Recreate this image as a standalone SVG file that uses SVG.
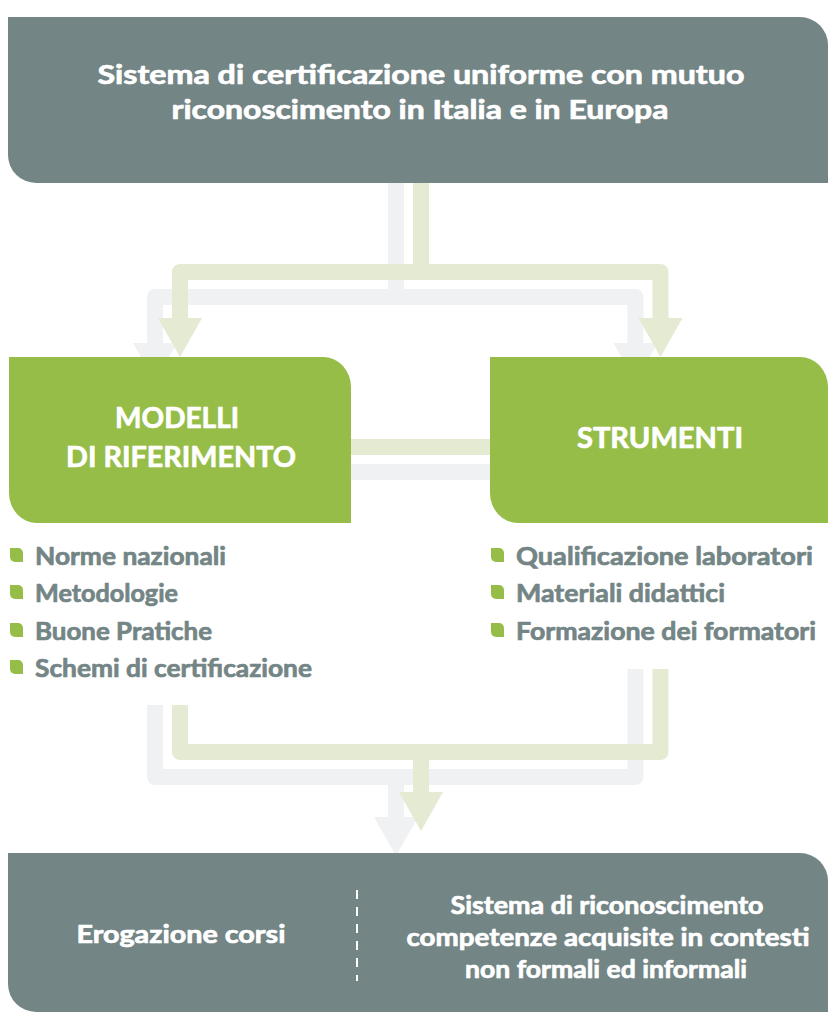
<svg xmlns="http://www.w3.org/2000/svg" width="828" height="1012" viewBox="0 0 828 1012">
  <style>
    .slate { fill: #738585; }
    .green { fill: #95bd47; }
    .cg { stroke: #e4ebd2; fill: none; stroke-width: 16; stroke-linejoin: round; }
    .cgr { stroke: #f0f1f3; fill: none; stroke-width: 16; stroke-linejoin: round; }
    .ag { fill: #e4ebd2; }
    .agr { fill: #f0f1f3; }
    .t { font-family: Lato, "Open Sans", "Liberation Sans", sans-serif; font-weight: 700; stroke-width: 0.7; stroke-linejoin: round; }
    .tw { fill: #ffffff; stroke: #ffffff; text-anchor: middle; }
    .tl { fill: #738585; stroke: #738585; font-size: 25px; }
    .bul { fill: #95bd47; }
  </style>
  <defs>
    <path id="bullet" d="M0,0 H8 A5,5 0 0 1 13,5 V14 H5 A5,5 0 0 1 0,9 Z"/>
  </defs>

  <g id="connectors">
    <!-- grey shadow layer -->
    <path class="cgr" d="M396,160 V297"/>
    <path class="cgr" d="M155,345 V297 H635.5 V345"/>
    <polygon class="agr" points="133,343 177,343 155,382"/>
    <polygon class="agr" points="613.5,343 657.5,343 635.5,382"/>
    <rect class="agr" x="340" y="464" width="160" height="16"/>
    <path class="cgr" d="M155,705 V777 H635.5 V669"/>
    <path class="cgr" d="M396,777 V818"/>
    <polygon class="agr" points="374,817 418,817 396,856"/>
    <!-- green layer -->
    <path class="cg" d="M421,160 V272"/>
    <path class="cg" d="M180,319 V272 H660.5 V319"/>
    <polygon class="ag" points="158,318 202,318 180,357"/>
    <polygon class="ag" points="638.5,318 682.5,318 660.5,357"/>
    <rect class="ag" x="340" y="439" width="160" height="16"/>
    <path class="cg" d="M180,705 V752 H660.5 V669"/>
    <path class="cg" d="M421,752 V793"/>
    <polygon class="ag" points="399,792 443,792 421,831"/>
  </g>

  <g id="top">
    <path class="slate" d="M8,17 H800 A28,28 0 0 1 828,45 V183 H36 A28,28 0 0 1 8,155 Z"/>
    <text class="t tw" font-size="26" x="421" y="84" textLength="647" lengthAdjust="spacingAndGlyphs">Sistema di certificazione uniforme  con mutuo</text>
    <text class="t tw" font-size="26" x="420" y="119" textLength="497" lengthAdjust="spacingAndGlyphs">riconoscimento in Italia e in Europa</text>
  </g>

  <g id="modelli">
    <path class="green" d="M9,357 H323 A28,30 0 0 1 351,387 V523 H37 A28,30 0 0 1 9,493 Z"/>
    <text class="t tw" font-size="28" x="177" y="428" textLength="124" lengthAdjust="spacingAndGlyphs">MODELLI</text>
    <text class="t tw" font-size="28" x="181" y="467" textLength="230" lengthAdjust="spacingAndGlyphs">DI RIFERIMENTO</text>
  </g>

  <g id="strumenti">
    <path class="green" d="M490,357 H800 A28,30 0 0 1 828,387 V523 H518 A28,30 0 0 1 490,493 Z"/>
    <text class="t tw" font-size="28" x="660" y="448" textLength="166" lengthAdjust="spacingAndGlyphs">STRUMENTI</text>
  </g>

  <g id="list-modelli">
    <use href="#bullet" class="bul" x="10" y="548"/>
    <text class="t tl" x="35" y="565" textLength="191" lengthAdjust="spacingAndGlyphs">Norme nazionali</text>
    <use href="#bullet" class="bul" x="10" y="585"/>
    <text class="t tl" x="35" y="602" textLength="143" lengthAdjust="spacingAndGlyphs">Metodologie</text>
    <use href="#bullet" class="bul" x="10" y="623"/>
    <text class="t tl" x="35" y="640" textLength="177" lengthAdjust="spacingAndGlyphs">Buone Pratiche</text>
    <use href="#bullet" class="bul" x="10" y="660"/>
    <text class="t tl" x="35" y="677" textLength="277" lengthAdjust="spacingAndGlyphs">Schemi di certificazione</text>
  </g>

  <g id="list-strumenti">
    <use href="#bullet" class="bul" x="491" y="548"/>
    <text class="t tl" x="516" y="565" textLength="297" lengthAdjust="spacingAndGlyphs">Qualificazione  laboratori</text>
    <use href="#bullet" class="bul" x="491" y="585"/>
    <text class="t tl" x="516" y="602" textLength="209" lengthAdjust="spacingAndGlyphs">Materiali didattici</text>
    <use href="#bullet" class="bul" x="491" y="623"/>
    <text class="t tl" x="516" y="640" textLength="300" lengthAdjust="spacingAndGlyphs">Formazione dei formatori</text>
  </g>

  <g id="bottom">
    <path class="slate" d="M8,853 H800 A28,28 0 0 1 828,881 V1012 H36 A28,28 0 0 1 8,984 Z"/>
    <line x1="357" y1="890" x2="357" y2="981" stroke="#ffffff" stroke-width="2" stroke-dasharray="9 8"/>
    <text class="t tw" font-size="25" x="181" y="943" textLength="209" lengthAdjust="spacingAndGlyphs">Erogazione corsi</text>
    <text class="t tw" font-size="24" x="607" y="914" textLength="313" lengthAdjust="spacingAndGlyphs">Sistema di riconoscimento</text>
    <text class="t tw" font-size="24" x="608" y="946" textLength="403" lengthAdjust="spacingAndGlyphs">competenze acquisite in contesti</text>
    <text class="t tw" font-size="24" x="606" y="978" textLength="282" lengthAdjust="spacingAndGlyphs">non formali ed informali</text>
  </g>
</svg>
